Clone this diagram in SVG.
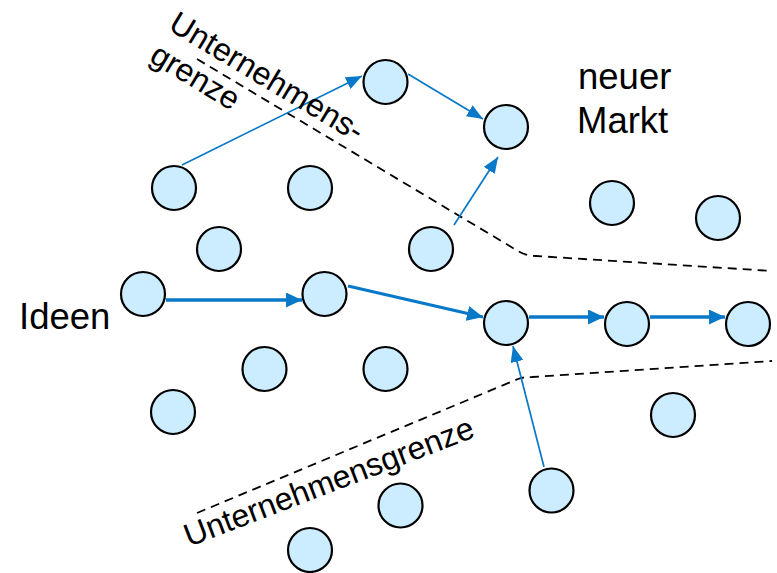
<svg xmlns="http://www.w3.org/2000/svg" width="777" height="573" viewBox="0 0 777 573">
<style>
.n{fill:#CCECFF;stroke:#000;stroke-width:2.2}
.t{font-family:"Liberation Sans",Arial,sans-serif;fill:#000}
.d{fill:none;stroke:#000;stroke-width:1.8;stroke-dasharray:9,6}
.a1{fill:none;stroke:#0878C8;stroke-width:1.7}
.a2{fill:none;stroke:#0878C8;stroke-width:3.3}
</style>
<defs>
<marker id="m1" markerUnits="userSpaceOnUse" markerWidth="17" markerHeight="13" refX="16" refY="6.5" orient="auto"><path d="M0,0 L16,6.5 L0,13 z" fill="#0878C8"/></marker>
<marker id="m2" markerUnits="userSpaceOnUse" markerWidth="17" markerHeight="15" refX="16" refY="7.5" orient="auto"><path d="M0,0 L16,7.5 L0,15 z" fill="#0878C8"/></marker>
</defs>
<rect width="777" height="573" fill="#fff"/>
<g id="boundaries">
<path class="d" d="M197,59 L518,251 Q526,256 536,256 L772,271"/>
<path class="d" d="M197,513 L518,379 Q523,377 532,377 L772,361"/>
</g>
<g id="connectors">
<line class="a1" x1="182" y1="165" x2="362" y2="76" marker-end="url(#m1)"/>
<line class="a1" x1="408" y1="74" x2="483" y2="119" marker-end="url(#m1)"/>
<line class="a1" x1="454" y1="225" x2="498" y2="157" marker-end="url(#m1)"/>
<line class="a1" x1="544" y1="467" x2="513" y2="346" marker-end="url(#m1)"/>
<line class="a2" x1="166" y1="300" x2="302" y2="300" marker-end="url(#m2)"/>
<line class="a2" x1="348" y1="286" x2="483" y2="317" marker-end="url(#m2)"/>
<line class="a2" x1="529" y1="317" x2="604" y2="317" marker-end="url(#m2)"/>
<line class="a2" x1="650" y1="317" x2="725" y2="317" marker-end="url(#m2)"/>
</g>
<g id="n1"><circle class="n" cx="385.5" cy="82" r="22"/></g>
<g id="n2"><circle class="n" cx="506" cy="127" r="22"/></g>
<g id="n3"><circle class="n" cx="174" cy="188" r="22"/></g>
<g id="n4"><circle class="n" cx="310" cy="188" r="22"/></g>
<g id="n5"><circle class="n" cx="612" cy="203" r="22"/></g>
<g id="n6"><circle class="n" cx="718" cy="218" r="22"/></g>
<g id="n7"><circle class="n" cx="219" cy="249" r="22"/></g>
<g id="n8"><circle class="n" cx="431" cy="249" r="22"/></g>
<g id="n9"><circle class="n" cx="143" cy="294" r="22"/></g>
<g id="n10"><circle class="n" cx="324.5" cy="294" r="22"/></g>
<g id="n11"><circle class="n" cx="506" cy="323" r="22"/></g>
<g id="n12"><circle class="n" cx="627" cy="324" r="22"/></g>
<g id="n13"><circle class="n" cx="748" cy="324" r="22"/></g>
<g id="n14"><circle class="n" cx="264.5" cy="369" r="22"/></g>
<g id="n15"><circle class="n" cx="385.5" cy="369" r="22"/></g>
<g id="n16"><circle class="n" cx="173" cy="412" r="22"/></g>
<g id="n17"><circle class="n" cx="673" cy="415" r="22"/></g>
<g id="n18"><circle class="n" cx="400.5" cy="505.5" r="22"/></g>
<g id="n19"><circle class="n" cx="551.5" cy="490.5" r="22"/></g>
<g id="n20"><circle class="n" cx="310" cy="550" r="22"/></g>
<g id="labels">
<text class="t" x="19" y="329" font-size="36.5">Ideen</text>
<text class="t" x="578" y="89" font-size="36.5">neuer</text>
<text class="t" x="577" y="133" font-size="36.5">Markt</text>
<text class="t" font-size="32" transform="translate(167,29) rotate(31)"><tspan x="0" y="0">Unternehmens-</tspan><tspan x="0" y="37">grenze</tspan></text>
<text class="t" font-size="32" transform="translate(189,547) rotate(-21)">Unternehmensgrenze</text>
</g>
</svg>
